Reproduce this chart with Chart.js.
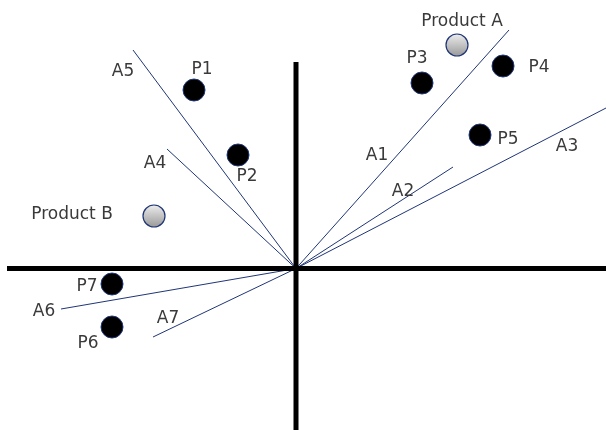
<!DOCTYPE html>
<html>
<head>
<meta charset="utf-8">
<script src="https://cdn.jsdelivr.net/npm/chart.js@4/dist/chart.umd.min.js"></script>
<style>
  html, body { margin: 0; padding: 0; background: #fff; }
  #wrap { width: 606px; height: 430px; }
</style>
</head>
<body>
<div id="wrap"><canvas id="mapChart" width="606" height="430"></canvas></div>
<script>
// === data (map units, origin = centre of the cross) ===
const attrNames = ['A1','A2','A3','A4','A5','A6','A7'];
const attrX = [2.13, 1.57, 3.10, -1.29, -1.63, -2.35, -1.43];
const attrY = [2.385, 1.015, 1.605, 1.195, 2.185, -0.405, -0.685];

const prefNames = ['P1','P2','P3','P4','P5','P6','P7'];
const prefX = [-1.02, -0.58, 1.26, 2.07, 1.84, -1.84, -1.84];
const prefY = [1.785, 1.135, 1.855, 2.025, 1.335, -0.585, -0.155];

const productNames = ['Product A','Product B'];
const productX = [1.61, -1.42];
const productY = [2.235, 0.525];

const axisH = [[-2.89, 0], [3.10, 0]];
const axisV = [[0, 2.065], [0, -1.615]];

// === label offsets in pixels (style only) ===
const labelOffset = {
  A1: [-132, 126], A2: [-50, 25], A3: [-39, 39], A4: [-12, 15], A5: [-10, 22], A6: [-17, 3], A7: [15, -18],
  P1: [8, -20], P2: [9, 22], P3: [-5, -24], P4: [36, 2], P5: [28, 5], P6: [-24, 17], P7: [-25, 3],
  'Product A': [5, -23], 'Product B': [-82, -1]
};

const navy = '#1f3577';

const datasets = [];
datasets.push({ type:'line', data: axisH.map(p=>({x:p[0], y:p[1]})), borderColor:'#000', borderWidth:5, pointRadius:0, borderCapStyle:'butt' });
datasets.push({ type:'line', data: axisV.map(p=>({x:p[0], y:p[1]})), borderColor:'#000', borderWidth:5, pointRadius:0, borderCapStyle:'butt' });
attrNames.forEach((name, i)=>{
  datasets.push({
    type:'line', label:name, labels:[null, name],
    data:[{x:0, y:0}, {x:attrX[i], y:attrY[i]}],
    borderColor:navy, borderWidth:1, pointRadius:0
  });
});
datasets.push({
  type:'scatter', labels: prefNames,
  data: prefNames.map((n,i)=>({x:prefX[i], y:prefY[i]})),
  pointRadius:11, pointHoverRadius:11,
  backgroundColor:'#000', borderColor:navy, borderWidth:1
});
datasets.push({
  type:'scatter', labels: productNames,
  data: productNames.map((n,i)=>({x:productX[i], y:productY[i]})),
  pointRadius:11, pointHoverRadius:11,
  backgroundColor: (c)=>{
    const chart = c.chart;
    if (!chart.scales || !chart.scales.y || !c.parsed) return '#c8c8c8';
    const py = chart.scales.y.getPixelForValue(c.parsed.y);
    if (!isFinite(py)) return '#c8c8c8';
    const g = chart.ctx.createLinearGradient(0, py-11, 0, py+11);
    g.addColorStop(0, '#ececec');
    g.addColorStop(1, '#9a9a9a');
    return g;
  },
  borderColor:navy, borderWidth:1.2
});

const labelPlugin = {
  id:'mapLabels',
  afterDatasetsDraw(chart){
    const ctx = chart.ctx;
    ctx.save();
    ctx.font = '17px "DejaVu Sans", sans-serif';
    ctx.fillStyle = '#3a3a3a';
    ctx.textAlign = 'center';
    ctx.textBaseline = 'middle';
    chart.data.datasets.forEach((ds, di)=>{
      if (!ds.labels) return;
      const meta = chart.getDatasetMeta(di);
      ds.labels.forEach((txt, j)=>{
        if (!txt) return;
        const el = meta.data[j];
        const off = labelOffset[txt];
        ctx.fillText(txt, el.x + off[0], el.y + off[1]);
      });
    });
    ctx.restore();
  }
};

const ctx = document.getElementById('mapChart').getContext('2d');
new Chart(ctx, {
  data: { datasets },
  options: {
    responsive:false, animation:false,
    layout:{ padding:0, autoPadding:false },
    plugins:{ legend:{display:false}, tooltip:{enabled:false} },
    scales:{
      x:{ type:'linear', min:-2.96, max:3.10, display:false },
      y:{ type:'linear', min:-1.615, max:2.685, display:false }
    }
  },
  plugins:[labelPlugin]
});
</script>
</body>
</html>
